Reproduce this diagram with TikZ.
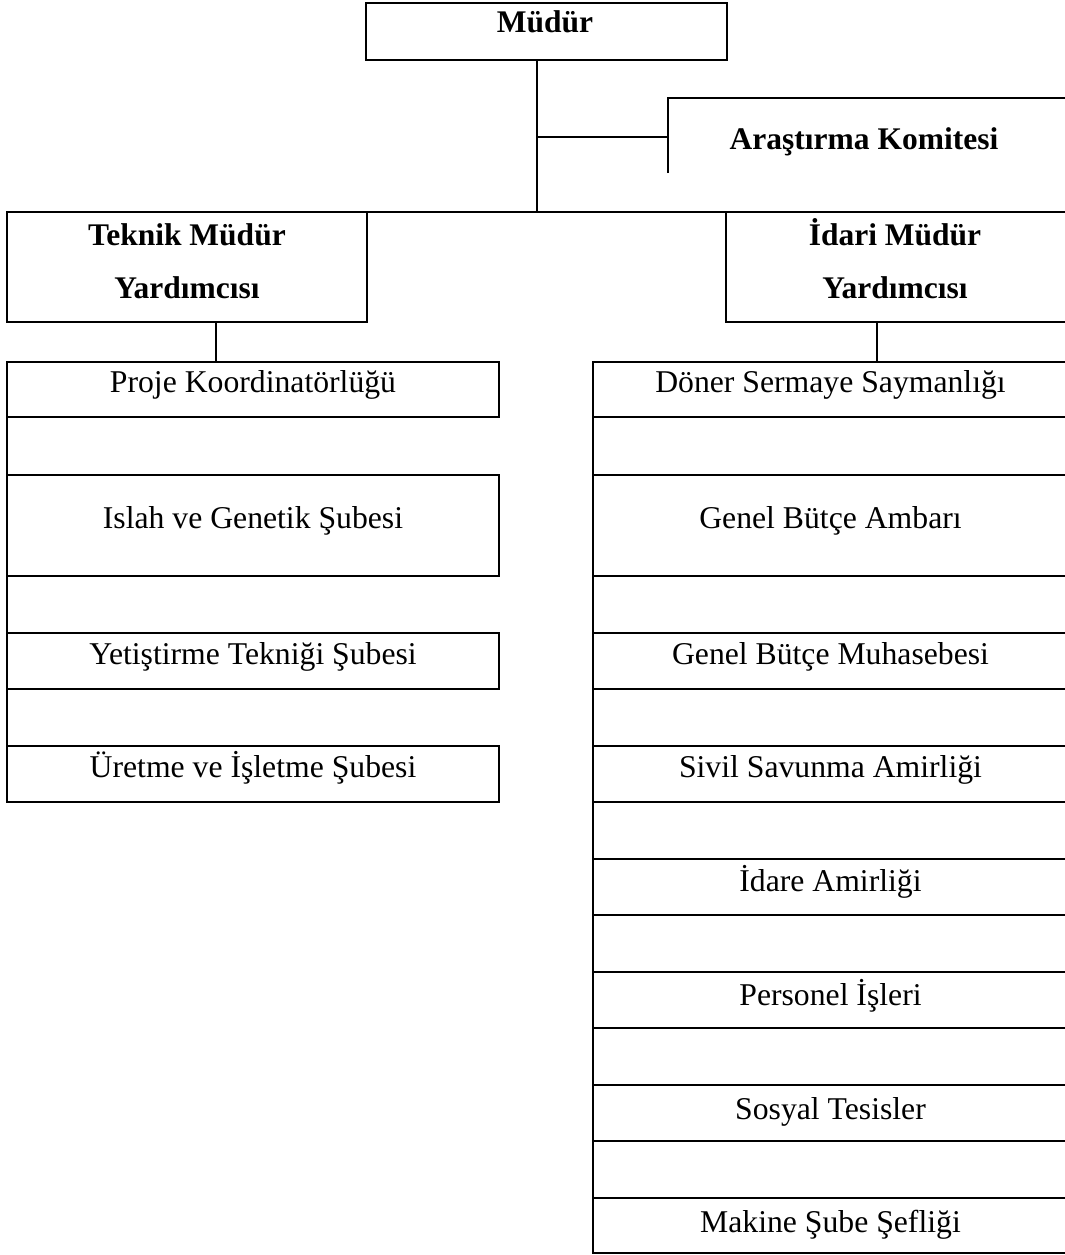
\documentclass[tikz,border=0pt]{standalone}
\usepackage{fontspec}
\setmainfont{Liberation Serif}
% unit box: [text height], name, left, top, right, bottom, text
\newcommand\orgbox[7][14pt]{%
  \node[frame, reg, text height=#1, minimum width={#5-#3}, minimum height={#6-#4}]
    (#2) at ({(#3+#5)/2},{(#4+#6)/2}) {#7};}
\begin{document}
\begin{tikzpicture}[x=1pt, y=-1pt,
  frame/.style={draw, line width=2.2pt, inner sep=0pt, outer sep=0pt},
  line/.style={line width=2.2pt},
  reg/.style={font=\fontsize{31.7}{38}\selectfont, text depth=8pt},
  bold/.style={font=\fontsize{31.5}{38}\selectfont\bfseries, inner sep=0pt, anchor=base},
]
\useasboundingbox (0,0) rectangle (1065,1255);
\clip (0,0) rectangle (1065,1255);

% top level
\orgbox{mudur}{366}{3}{727}{60}{}
\node[bold] (mudurtext) at (545,33) {Müdür};

% committee (open frame)
\draw[line] (668,173) -- (668,98) -- (1068,98);
\node[bold] (arastirma) at (864,149) {Araştırma Komitesi};
\coordinate (akjoin) at (668,137);

% deputies
\orgbox{teknik}{7}{212}{367}{322}{}
\node[bold] (teknik1) at (187,245) {Teknik Müdür};
\node[bold] (teknik2) at (187,298) {Yardımcısı};
\orgbox{idari}{726}{212}{1068}{322}{}
\node[bold] (idari1) at (895,245) {İdari Müdür};
\node[bold] (idari2) at (895,298) {Yardımcısı};

% technical units
\orgbox{proje}{7}{362}{499}{417}{Proje Koordinatörlüğü}
\orgbox{islah}{7}{475}{499}{576}{Islah ve Genetik Şubesi}
\orgbox{yetistirme}{7}{633}{499}{689}{Yetiştirme Tekniği Şubesi}
\orgbox{uretme}{7}{746}{499}{802}{Üretme ve İşletme Şubesi}

% administrative units
\orgbox{doner}{593}{362}{1068}{417}{Döner Sermaye Saymanlığı}
\orgbox{ambar}{593}{475}{1068}{576}{Genel Bütçe Ambarı}
\orgbox{muhasebe}{593}{633}{1068}{689}{Genel Bütçe Muhasebesi}
\orgbox{sivil}{593}{746}{1068}{802}{Sivil Savunma Amirliği}
\orgbox[16pt]{idare}{593}{859}{1068}{915}{İdare Amirliği}
\orgbox[18pt]{personel}{593}{972}{1068}{1028}{Personel İşleri}
\orgbox[20pt]{sosyal}{593}{1085}{1068}{1141}{Sosyal Tesisler}
\orgbox[22pt]{makine}{593}{1198}{1068}{1253}{Makine Şube Şefliği}

% connectors
\draw[line] ([xshift=-9.5pt]mudur.south) coordinate (trunk) -- (trunk |- teknik.north);
\draw[line] (trunk |- akjoin) -- (akjoin);
\draw[line] (teknik.north east) -- (idari.north west);
\draw[line] ([xshift=29pt]teknik.south) coordinate (tdrop) -- (tdrop |- proje.north);
\draw[line] ([xshift=-20pt]idari.south) coordinate (idrop) -- (idrop |- doner.north);
\draw[line] (proje.north west) -- (uretme.south west);
\draw[line] (doner.north west) -- (makine.south west);
\end{tikzpicture}
\end{document}
